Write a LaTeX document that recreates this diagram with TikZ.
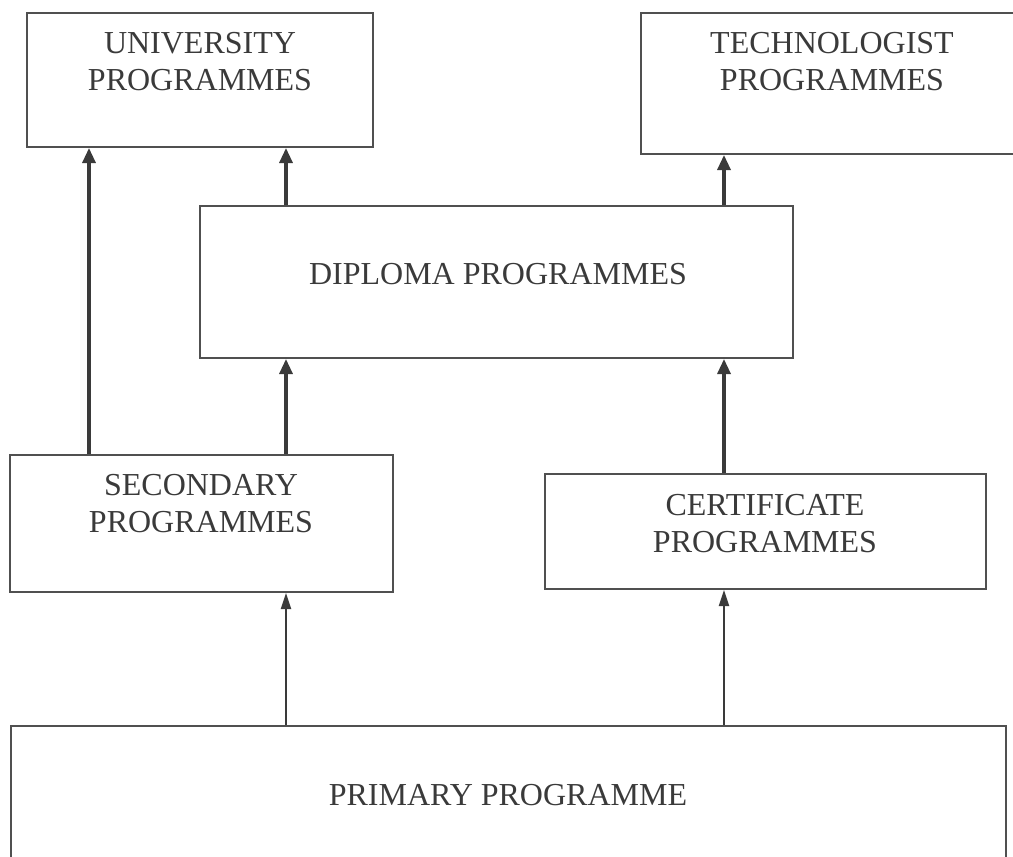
\documentclass[tikz,border=0pt]{standalone}
\usepackage{fontspec}
\setmainfont{Liberation Serif}
\usepackage{xcolor}
\usetikzlibrary{arrows.meta}
\definecolor{boxline}{HTML}{505050}
\definecolor{inkgray}{HTML}{3A3A3A}

\tikzset{
  prog/.style={draw=boxline, line width=2pt, rectangle, inner sep=0pt},
  progtext/.style={align=center, text=inkgray, font=\fontsize{32}{37}\selectfont},
  link/.style={draw=inkgray, line width=3.2pt, -{Triangle[length=15pt,width=13pt]}},
  thinlink/.style={draw=inkgray, line width=2pt, -{Triangle[length=16pt,width=10pt]}}
}

\begin{document}
\begin{tikzpicture}[x=1pt, y=-1pt]
  \useasboundingbox (0,0) rectangle (1013,857);
  % columns of the arrows
  \coordinate (c1) at (89,0);
  \coordinate (c2) at (286,0);
  \coordinate (c3) at (724,0);
  % boxes
  \node[prog, minimum width=346pt, minimum height=134pt] (univ) at (200,80) {};
  \node[prog, minimum width=384pt, minimum height=141pt] (tech) at (833,83.5) {};
  \node[prog, minimum width=593pt, minimum height=152pt] (dipl) at (496.5,282) {};
  \node[prog, minimum width=383pt, minimum height=137pt] (sec) at (201.5,523.5) {};
  \node[prog, minimum width=441pt, minimum height=115pt] (cert) at (765.5,531.5) {};
  \node[prog, minimum width=995pt, minimum height=150pt] (prim) at (508.5,801) {};
  % labels
  \node[progtext] (univ-t) at (200,62) {UNIVERSITY\\PROGRAMMES};
  \node[progtext] (tech-t) at (832,62) {TECHNOLOGIST\\PROGRAMMES};
  \node[progtext] (dipl-t) at (498,274) {DIPLOMA PROGRAMMES};
  \node[progtext] (sec-t) at (201,504) {SECONDARY\\PROGRAMMES};
  \node[progtext] (cert-t) at (765,524) {CERTIFICATE\\PROGRAMMES};
  \node[progtext] (prim-t) at (508,795) {PRIMARY PROGRAMME};
  % arrows
  \draw[link] (c1 |- sec.north) -- (c1 |- univ.south);
  \draw[link] (c2 |- sec.north) -- (c2 |- dipl.south);
  \draw[link] (c2 |- dipl.north) -- (c2 |- univ.south);
  \draw[link] (c3 |- cert.north) -- (c3 |- dipl.south);
  \draw[link] (c3 |- dipl.north) -- (c3 |- tech.south);
  \draw[thinlink] (c2 |- prim.north) -- (c2 |- sec.south);
  \draw[thinlink] (c3 |- prim.north) -- (c3 |- cert.south);
\end{tikzpicture}
\end{document}
